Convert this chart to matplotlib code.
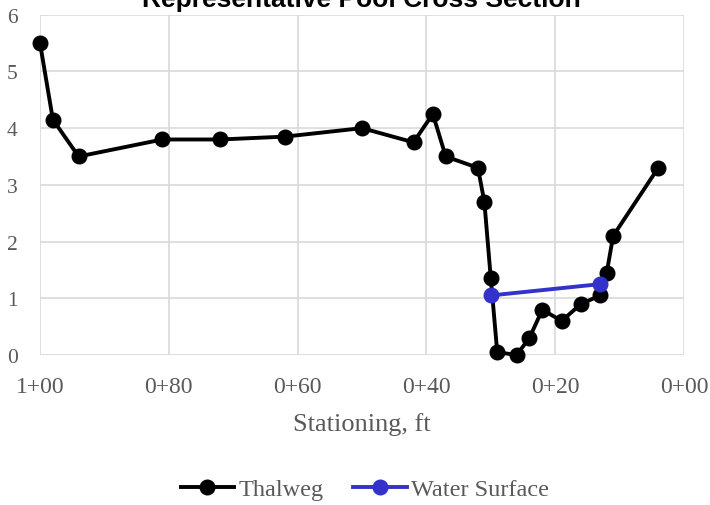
import matplotlib
matplotlib.use("Agg")
import matplotlib.pyplot as plt

# Data
thalweg_station = [100, 98, 94, 81, 72, 62, 50, 42, 39, 37, 32, 31, 30, 29, 26, 24, 22, 19, 16, 13, 12, 11, 4]
thalweg_elev = [5.5, 4.15, 3.5, 3.8, 3.8, 3.85, 4.0, 3.75, 4.25, 3.5, 3.3, 2.7, 1.35, 0.05, 0.0, 0.3, 0.8, 0.6, 0.9, 1.05, 1.45, 2.1, 3.3]
water_station = [30, 13]
water_elev = [1.05, 1.25]
x_ticks = [100, 80, 60, 40, 20, 0]
x_tick_labels = ["1+00", "0+80", "0+60", "0+40", "0+20", "0+00"]
y_ticks = [0, 1, 2, 3, 4, 5, 6]

W, H = 710, 506
fig = plt.figure(figsize=(W / 100, H / 100), dpi=100)
left, right, top, bottom = 40, 684, 15.7, 356
ax = fig.add_axes([left / W, 1 - bottom / H, (right - left) / W, (bottom - top) / H])

grey = "#595959"
serif = "Liberation Serif"

ax.plot(thalweg_station, thalweg_elev, color="black", lw=2.8, marker="o",
        markersize=10.5, label="Thalweg", clip_on=False, zorder=3)
ax.plot(water_station, water_elev, color="#3333CC", lw=2.8, marker="o",
        markersize=10.5, label="Water Surface", clip_on=False, zorder=4)

ax.set_xlim(100, 0)
ax.set_ylim(0, 6)
ax.set_xticks(x_ticks)
ax.set_xticklabels(x_tick_labels)
ax.set_yticks(y_ticks)
ax.grid(True, color="#d9d9d9", lw=1.2, zorder=0)
ax.set_axisbelow(True)
for s in ax.spines.values():
    s.set_visible(False)
ax.tick_params(axis="both", length=0)
ax.tick_params(axis="x", pad=15, labelsize=17, labelcolor=grey)
ax.tick_params(axis="y", pad=16, labelsize=15.5, labelcolor=grey)
for lab in ax.get_xticklabels() + ax.get_yticklabels():
    lab.set_fontfamily(serif)

ax.set_xlabel("Stationing, ft", fontsize=19, color=grey, fontfamily=serif)
ax.xaxis.set_label_coords(0.5, (356 - 431) / (bottom - top))
ax.xaxis.label.set_va("baseline")

fig.text(361.5 / W, 1 - 7 / H, "Representative Pool Cross Section",
         ha="center", va="baseline", fontsize=19, fontweight="bold",
         fontfamily="Liberation Sans", color="black")

leg = fig.legend(loc="center", bbox_to_anchor=(365 / W, 1 - 490 / H), ncol=2,
                 frameon=False, handlelength=2.2, handletextpad=0.2,
                 columnspacing=1.2, prop={"family": serif, "size": 17.5})
for t in leg.get_texts():
    t.set_color(grey)

fig.savefig("out.png", dpi=100)
